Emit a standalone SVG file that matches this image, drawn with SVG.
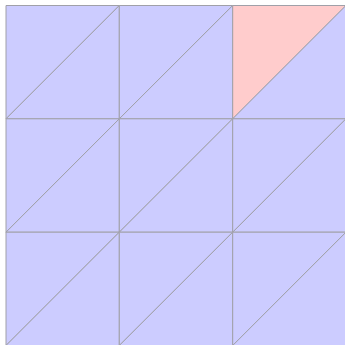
<svg xmlns="http://www.w3.org/2000/svg" width="345" height="345" viewBox="0 0 345 345">
<style>
.t{fill:#ccccff;stroke:#a0a0a8;stroke-width:1}
.p{fill:#ffcccc;stroke:#a0a0a8;stroke-width:1}
</style>
<rect width="345" height="345" fill="#ffffff"/>
<g id="row0">
<polygon class="t" points="6,5.5 119.3,5.5 6,118.8"/>
<polygon class="t" points="119.3,5.5 119.3,118.8 6,118.8"/>
<polygon class="t" points="119.3,5.5 232.7,5.5 119.3,118.8"/>
<polygon class="t" points="232.7,5.5 232.7,118.8 119.3,118.8"/>
<polygon class="p" points="232.7,5.5 346,5.5 232.7,118.8"/>
<polygon class="t" points="346,5.5 346,118.8 232.7,118.8"/>
</g>
<g id="row1">
<polygon class="t" points="6,118.8 119.3,118.8 6,232.2"/>
<polygon class="t" points="119.3,118.8 119.3,232.2 6,232.2"/>
<polygon class="t" points="119.3,118.8 232.7,118.8 119.3,232.2"/>
<polygon class="t" points="232.7,118.8 232.7,232.2 119.3,232.2"/>
<polygon class="t" points="232.7,118.8 346,118.8 232.7,232.2"/>
<polygon class="t" points="346,118.8 346,232.2 232.7,232.2"/>
</g>
<g id="row2">
<polygon class="t" points="6,232.2 119.3,232.2 6,345.5"/>
<polygon class="t" points="119.3,232.2 119.3,345.5 6,345.5"/>
<polygon class="t" points="119.3,232.2 232.7,232.2 119.3,345.5"/>
<polygon class="t" points="232.7,232.2 232.7,345.5 119.3,345.5"/>
<polygon class="t" points="232.7,232.2 346,232.2 232.7,345.5"/>
<polygon class="t" points="346,232.2 346,345.5 232.7,345.5"/>
</g>
</svg>
